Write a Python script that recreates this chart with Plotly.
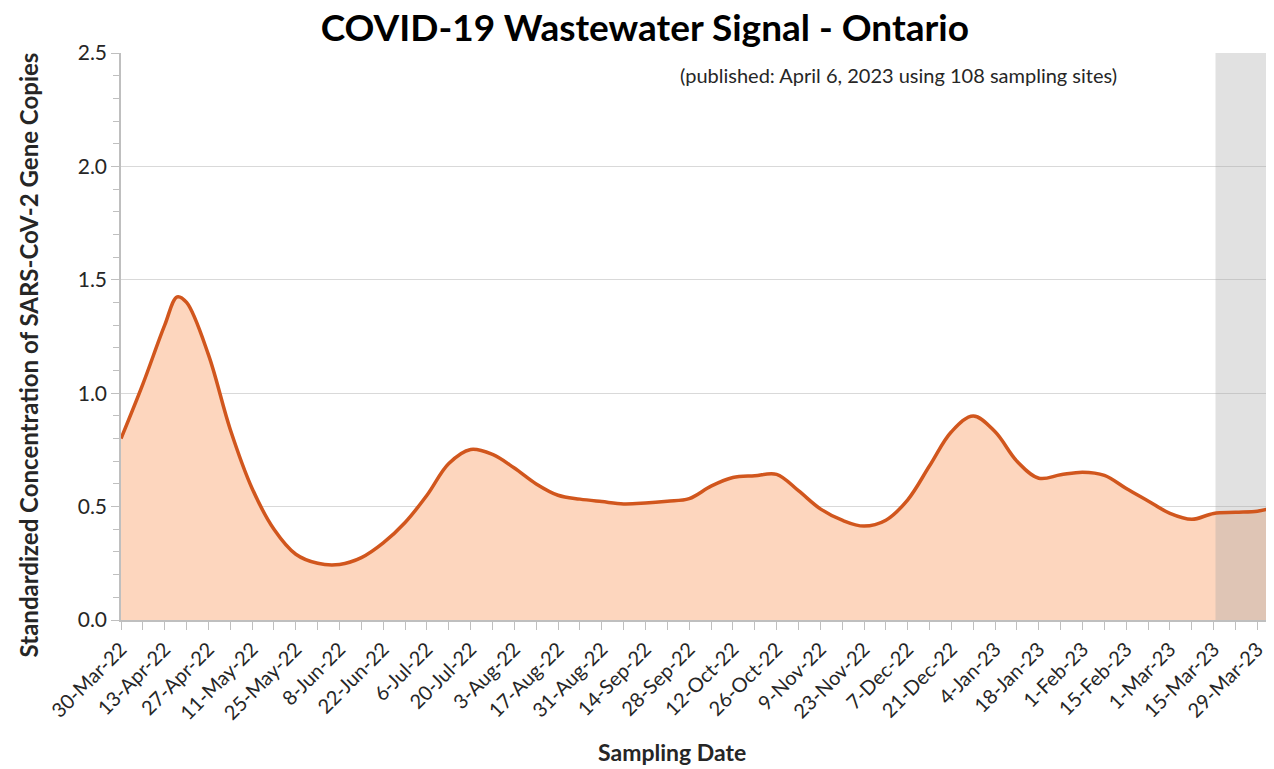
import plotly.graph_objects as go
import pandas as pd

# ---- data ----
dates = ["2022-03-30", "2022-04-06", "2022-04-13", "2022-04-17", "2022-04-20", "2022-04-27",
         "2022-05-04", "2022-05-11", "2022-05-18", "2022-05-25", "2022-06-01", "2022-06-08",
         "2022-06-15", "2022-06-22", "2022-06-29", "2022-07-06", "2022-07-13", "2022-07-20",
         "2022-07-27", "2022-08-03", "2022-08-10", "2022-08-17", "2022-08-24", "2022-08-31",
         "2022-09-07", "2022-09-14", "2022-09-21", "2022-09-28", "2022-10-05", "2022-10-12",
         "2022-10-19", "2022-10-26", "2022-11-02", "2022-11-09", "2022-11-16", "2022-11-23",
         "2022-11-30", "2022-12-07", "2022-12-14", "2022-12-21", "2022-12-28", "2023-01-04",
         "2023-01-11", "2023-01-18", "2023-01-25", "2023-02-01", "2023-02-08", "2023-02-15",
         "2023-02-22", "2023-03-01", "2023-03-08", "2023-03-15", "2023-03-22", "2023-03-29",
         "2023-04-01"]
signal = [0.80, 1.04, 1.30, 1.425, 1.40, 1.17,
          0.84, 0.58, 0.40, 0.29, 0.25, 0.245,
          0.275, 0.34, 0.43, 0.55, 0.69, 0.752,
          0.73, 0.67, 0.60, 0.55, 0.533, 0.522,
          0.512, 0.516, 0.524, 0.535, 0.59, 0.628,
          0.636, 0.642, 0.57, 0.49, 0.44, 0.414,
          0.44, 0.53, 0.68, 0.83, 0.90, 0.83,
          0.70, 0.625, 0.64, 0.652, 0.638, 0.58,
          0.525, 0.47, 0.444, 0.47, 0.475, 0.48,
          0.488]

tick_dates = ["2022-03-30", "2022-04-13", "2022-04-27", "2022-05-11", "2022-05-25", "2022-06-08",
              "2022-06-22", "2022-07-06", "2022-07-20", "2022-08-03", "2022-08-17", "2022-08-31",
              "2022-09-14", "2022-09-28", "2022-10-12", "2022-10-26", "2022-11-09", "2022-11-23",
              "2022-12-07", "2022-12-21", "2023-01-04", "2023-01-18", "2023-02-01", "2023-02-15",
              "2023-03-01", "2023-03-15", "2023-03-29"]
tick_labels = ["30-Mar-22", "13-Apr-22", "27-Apr-22", "11-May-22", "25-May-22", "8-Jun-22",
               "22-Jun-22", "6-Jul-22", "20-Jul-22", "3-Aug-22", "17-Aug-22", "31-Aug-22",
               "14-Sep-22", "28-Sep-22", "12-Oct-22", "26-Oct-22", "9-Nov-22", "23-Nov-22",
               "7-Dec-22", "21-Dec-22", "4-Jan-23", "18-Jan-23", "1-Feb-23", "15-Feb-23",
               "1-Mar-23", "15-Mar-23", "29-Mar-23"]

x_start = "2022-03-30"
x_end = "2023-04-01 02:00"
shade_start = "2023-03-15 14:00"
y_max = 2.5

title_text = "COVID-19 Wastewater Signal - Ontario"
note_text = "(published: April 6, 2023 using 108 sampling sites)"
y_title = "Standardized Concentration of SARS-CoV-2 Gene Copies"
x_title = "Sampling Date"

FONT = "Lato"
LINE = "#D1561D"
FILL = "rgb(253,214,190)"

fig = go.Figure()

# filled area
fig.add_trace(go.Scatter(
    x=pd.to_datetime(dates), y=signal, mode="lines",
    line=dict(color="rgba(0,0,0,0)", width=0, shape="spline", smoothing=1.0),
    fill="tozeroy", fillcolor=FILL, hoverinfo="skip", showlegend=False))

# grey shaded (incomplete data) region
fig.add_trace(go.Scatter(
    x=[shade_start, x_end, x_end, shade_start, shade_start],
    y=[0, 0, y_max, y_max, 0], mode="lines", fill="toself",
    fillcolor="rgba(165,165,165,0.33)", line=dict(width=0),
    hoverinfo="skip", showlegend=False))

# line
fig.add_trace(go.Scatter(
    x=pd.to_datetime(dates), y=signal, mode="lines",
    line=dict(color=LINE, width=3.5, shape="spline", smoothing=1.0),
    showlegend=False))

# page body has an 8px margin, so the figure is sized to fill the rest of the window
fig.update_layout(
    width=1266, height=761,
    margin=dict(l=113, r=7, t=45, b=149),
    paper_bgcolor="white", plot_bgcolor="white",
    font=dict(family=FONT, color="#262626"),
    title=dict(text="<b>" + title_text + "</b>", x=0.503, xref="container", xanchor="center",
               y=0.974, yref="container", yanchor="middle",
               font=dict(family=FONT, size=37, color="black")),
)

fig.update_xaxes(
    type="date", range=[x_start, x_end], automargin=False,
    tickvals=tick_dates, ticktext=tick_labels, tickangle=-45,
    tickfont=dict(family=FONT, size=20, color="#262626"),
    ticks="outside", ticklen=8, tickcolor="#BFBFBF", tickwidth=1,
    minor=dict(dtick=7 * 86400000, tick0="2022-03-30", ticks="outside", ticklen=8,
               tickcolor="#BFBFBF", showgrid=False),
    showline=True, linecolor="#BFBFBF", linewidth=1.5,
    showgrid=False, zeroline=False,
)

fig.update_yaxes(
    range=[0, y_max], dtick=0.5, tickformat=".1f", automargin=False,
    tickfont=dict(family=FONT, size=21, color="#262626"),
    ticks="outside", ticklen=8, tickcolor="#BFBFBF",
    minor=dict(dtick=0.1, ticks="outside", ticklen=6, tickcolor="#BFBFBF", showgrid=False),
    showline=True, linecolor="#BFBFBF", linewidth=1.5,
    showgrid=True, gridcolor="#D9D9D9", gridwidth=1, zeroline=False,
)

fig.add_annotation(text=note_text, xref="paper", yref="paper", x=0.871, y=0.962,
                   xanchor="right", yanchor="middle", showarrow=False,
                   font=dict(family=FONT, size=20, color="#262626"))
fig.add_annotation(text="<b>" + y_title + "</b>", xref="paper", yref="paper",
                   x=-0.081, y=0.467, textangle=-90, xanchor="center", yanchor="middle",
                   showarrow=False, font=dict(family=FONT, size=24, color="#262626"))
fig.add_annotation(text="<b>" + x_title + "</b>", xref="paper", yref="paper",
                   x=0.481, y=-0.233, xanchor="center", yanchor="middle",
                   showarrow=False, font=dict(family=FONT, size=23, color="#262626"))

fig.write_html("out.html")
